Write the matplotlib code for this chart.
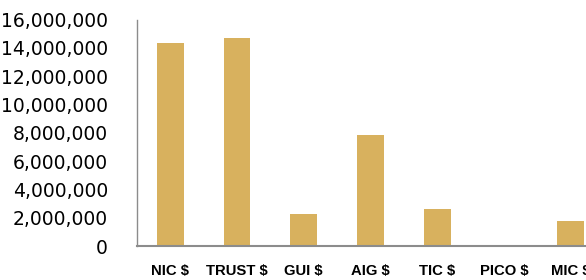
import matplotlib.pyplot as plt
from matplotlib.ticker import FuncFormatter

# data
categories = ["NIC $", "TRUST $", "GUI $", "AIG $", "TIC $", "PICO $", "MIC $"]
values = [14350000, 14700000, 2260000, 7850000, 2640000, 0, 1770000]
yticks = [0, 2000000, 4000000, 6000000, 8000000, 10000000, 12000000, 14000000, 16000000]

fig = plt.figure(figsize=(5.86, 2.8), dpi=100)
# axes runs past the right edge, like the cropped original
ax = fig.add_axes([0.2338, 0.1214, 0.797, 0.8086])

x = range(len(categories))
ax.bar(x, values, width=0.4, color="#D8B15E")

ax.set_xlim(-0.5, len(categories) - 0.5)
ax.set_ylim(0, 16000000)
ax.set_yticks(yticks)
ax.yaxis.set_major_formatter(FuncFormatter(lambda v, p: f"{int(v):,}"))
ax.set_xticks(list(x))
ax.set_xticklabels(categories, fontfamily="Liberation Sans", fontweight="bold", fontsize=10.7)

for lab in ax.get_yticklabels():
    lab.set_fontfamily("DejaVu Sans")
    lab.set_fontsize(13.5)

ax.tick_params(axis="y", length=0, pad=21)
ax.tick_params(axis="x", length=0, pad=13)

for side in ["top", "right"]:
    ax.spines[side].set_visible(False)
ax.spines["left"].set_color("#8c8c8c")
ax.spines["left"].set_linewidth(1.0)
ax.spines["bottom"].set_color("#8c8c8c")
ax.spines["bottom"].set_linewidth(1.5)

fig.savefig("out.png", dpi=100)
